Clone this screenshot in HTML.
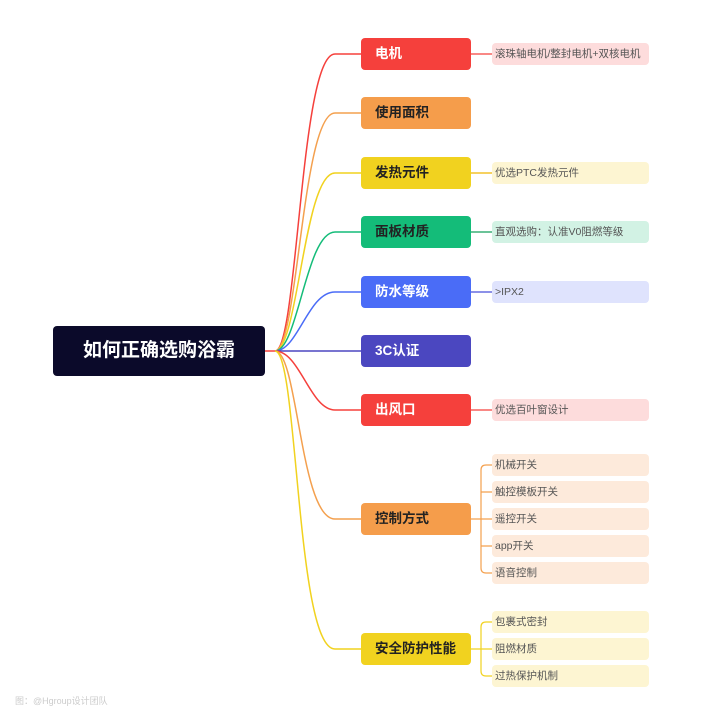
<!DOCTYPE html>
<html><head><meta charset="utf-8"><style>
body{margin:0;background:#fff;width:720px;height:722px;position:relative;overflow:hidden;font-family:"Liberation Sans","Noto Sans CJK SC",sans-serif}
.n{position:absolute;left:361px;width:110px;height:32px;border-radius:4px;font-weight:bold;font-size:13.5px;line-height:32px;box-sizing:border-box;padding-left:14px}
.l{position:absolute;left:492px;width:157px;height:22px;border-radius:4px;font-size:10.5px;line-height:22px;color:#555;padding-left:3px;box-sizing:border-box}
.root{position:absolute;left:53px;top:326px;width:212px;height:50px;background:#0b0a2a;border-radius:4px;color:#fff;font-weight:bold;font-size:19px;line-height:50px;text-align:center}
</style></head><body>
<svg width="720" height="722" style="position:absolute;left:0;top:0" fill="none" stroke-width="1.5">
<path d="M265 351H275C298 351 300 54 335 54H361" stroke="#f5403c"/>
<path d="M275 351C298 351 302 113 335 113H361" stroke="#f4a04e"/>
<path d="M275 351C298 351 304 173 335 173H361" stroke="#f1d21f"/>
<path d="M275 351C298 351 306 232 335 232H361" stroke="#14bc79"/>
<path d="M275 351C298 351 308 292 335 292H361" stroke="#4a6cf7"/>
<path d="M275 351H361" stroke="#4b47c0"/>
<path d="M275 351C300 351 310 410 335 410H361" stroke="#f5403c"/>
<path d="M275 351C298 351 300 519 335 519H361" stroke="#f4a04e"/>
<path d="M275 351C298 351 296 649 335 649H361" stroke="#f1d21f"/>
<path d="M471 54H492M471 173H492M471 232H492M471 292H492M471 410H492" stroke-width="1.2" stroke="#f5403c"/>
<path d="M471 173H492" stroke="#f1d21f" stroke-width="1.2"/>
<path d="M471 232H492" stroke="#14bc79" stroke-width="1.2"/>
<path d="M471 292H492" stroke="#4a6cf7" stroke-width="1.2"/>
<path d="M471 519H481M492 465H486Q481 465 481 470V568Q481 573 486 573H492M481 492H492M481 519H492M481 546H492" stroke="#f4a04e" stroke-width="1.2"/>
<path d="M471 649H481M492 622H486Q481 622 481 627V671Q481 676 486 676H492M481 649H492" stroke="#f1d21f" stroke-width="1.2"/>
</svg>
<div class="root">如何正确选购浴霸</div>
<div class="n" style="top:38px;background:#f5403c;color:#fff">电机</div>
<div class="n" style="top:97px;background:#f59d4b;color:#222">使用面积</div>
<div class="n" style="top:157px;background:#f1d21f;color:#222">发热元件</div>
<div class="n" style="top:216px;background:#14bc79;color:#222">面板材质</div>
<div class="n" style="top:276px;background:#4a6cf7;color:#fff">防水等级</div>
<div class="n" style="top:335px;background:#4b47c0;color:#fff">3C认证</div>
<div class="n" style="top:394px;background:#f5403c;color:#fff">出风口</div>
<div class="n" style="top:503px;background:#f59d4b;color:#222">控制方式</div>
<div class="n" style="top:633px;background:#f1d21f;color:#222">安全防护性能</div>
<div class="l" style="top:43px;background:#fddcdc">滚珠轴电机/整封电机+双核电机</div>
<div class="l" style="top:162px;background:#fdf5d2">优选PTC发热元件</div>
<div class="l" style="top:221px;background:#d2f2e4">直观选购：认准V0阻燃等级</div>
<div class="l" style="top:281px;background:#dfe3fd">&gt;IPX2</div>
<div class="l" style="top:399px;background:#fddcdc">优选百叶窗设计</div>
<div class="l" style="top:454px;background:#fdeadb">机械开关</div>
<div class="l" style="top:481px;background:#fdeadb">触控模板开关</div>
<div class="l" style="top:508px;background:#fdeadb">遥控开关</div>
<div class="l" style="top:535px;background:#fdeadb">app开关</div>
<div class="l" style="top:562px;background:#fdeadb">语音控制</div>
<div class="l" style="top:611px;background:#fdf5d2">包裹式密封</div>
<div class="l" style="top:638px;background:#fdf5d2">阻燃材质</div>
<div class="l" style="top:665px;background:#fdf5d2">过热保护机制</div>
<div style="position:absolute;left:15px;top:694px;font-size:9px;color:#ccc">图：@Hgroup设计团队</div>
</body></html>
